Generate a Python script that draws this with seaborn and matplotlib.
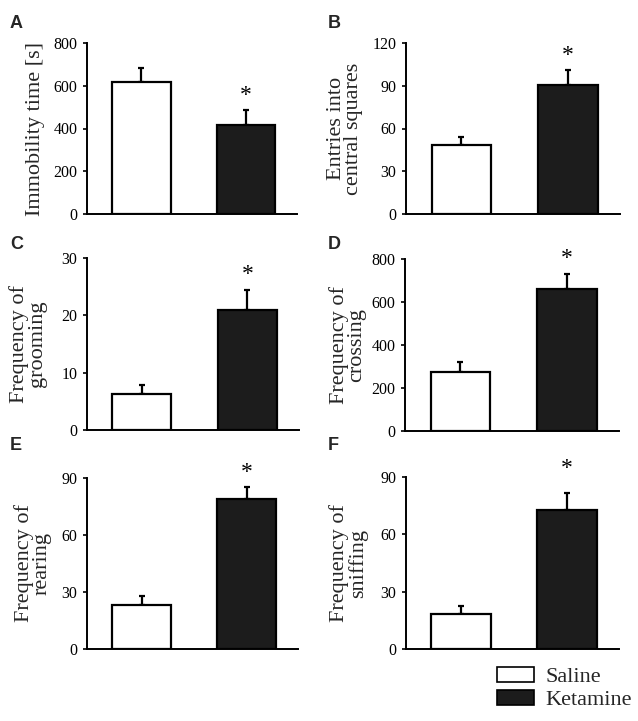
import matplotlib
matplotlib.use("Agg")
import matplotlib.pyplot as plt
from matplotlib.patches import Patch
import seaborn as sns
import pandas as pd

# ---- data ----
groups = ["Saline", "Ketamine"]
panel_letters = ["A", "B", "C", "D", "E", "F"]
ylabels = ["Immobility time [s]", "Entries into\ncentral squares",
           "Frequency of\ngrooming", "Frequency of\ncrossing",
           "Frequency of\nrearing", "Frequency of\nsniffing"]
immobility_mean = [617, 418]
immobility_err = [68, 70]
entries_mean = [48.4, 90.8]
entries_err = [5.9, 10.0]
grooming_mean = [6.2, 20.9]
grooming_err = [1.7, 3.6]
crossing_mean = [275, 662]
crossing_err = [45, 69]
rearing_mean = [23.2, 78.8]
rearing_err = [4.7, 6.7]
sniffing_mean = [18.5, 72.9]
sniffing_err = [4.0, 8.6]
yticks_list = [[0, 200, 400, 600, 800], [0, 30, 60, 90, 120],
               [0, 10, 20, 30], [0, 200, 400, 600, 800],
               [0, 30, 60, 90], [0, 30, 60, 90]]
significant = [True, True, True, True, True, True]

means = [immobility_mean, entries_mean, grooming_mean, crossing_mean, rearing_mean, sniffing_mean]
errs = [immobility_err, entries_err, grooming_err, crossing_err, rearing_err, sniffing_err]

# ---- style ----
sns.set_theme(style="white")
plt.rcParams['font.family'] = ['Liberation Serif', 'DejaVu Serif']
palette = {"Saline": "white", "Ketamine": "#1c1c1c"}

W, H = 638, 721
fig = plt.figure(figsize=(W / 100, H / 100), dpi=100)

# axes boxes in pixels: (left, top, right, bottom)
boxes = [(87, 43, 297, 214), (406, 43, 620, 214),
         (87, 258, 299, 430), (405, 259, 619, 431),
         (87, 478, 298, 649), (406, 477, 619, 649)]
label_x = [-0.2, -0.2, -0.19, -0.18, -0.17, -0.18]
letter_pos = [(10, 28), (328, 28), (10, 249), (328, 249), (10, 450), (328, 450)]
star_offsets = [10, 11, 11, 11, 10, 18]

for i in range(6):
    l, t, r, b = boxes[i]
    ax = fig.add_axes([l / W, 1 - b / H, (r - l) / W, (b - t) / H])
    df = pd.DataFrame({"group": groups, "value": means[i]})
    sns.barplot(data=df, x="group", y="value", hue="group", palette=palette,
                order=groups, hue_order=groups, legend=False, errorbar=None,
                width=0.56, edgecolor="black", linewidth=1.6, ax=ax, zorder=3)
    ax.errorbar([0, 1], means[i], yerr=[[0, 0], errs[i]], fmt="none",
                ecolor="black", elinewidth=1.6, capsize=2.5, capthick=1.6, zorder=2)
    yt = yticks_list[i]
    ax.set_ylim(0, yt[-1])
    ax.set_yticks(yt)
    ax.set_xlim(-0.52, 1.49)
    ax.set_xticks([])
    ax.set_xlabel("")
    ax.set_ylabel(ylabels[i], fontsize=16, linespacing=0.9)
    ax.yaxis.set_label_coords(label_x[i], 0.5)
    ax.tick_params(axis="y", which="major", left=True, length=3, width=1.2,
                   pad=4, labelsize=11.5, colors="black", direction="out")
    for s in ["top", "right"]:
        ax.spines[s].set_visible(False)
    for s in ["left", "bottom"]:
        ax.spines[s].set_color("black")
        ax.spines[s].set_linewidth(1.4)
    ax.set_facecolor("none")
    if significant[i]:
        ax.annotate("*", xy=(1, means[i][1] + errs[i][1]), xytext=(0, star_offsets[i]),
                    textcoords="offset points", ha="center", va="center",
                    fontsize=17, color="black")
    fig.text(letter_pos[i][0] / W, 1 - letter_pos[i][1] / H, panel_letters[i],
             fontsize=13, fontweight="bold", family="Liberation Sans",
             ha="left", va="baseline")

handles = [Patch(facecolor=palette[g], edgecolor="black", linewidth=1.2, label=g) for g in groups]
fig.legend(handles=handles, loc="upper left", bbox_to_anchor=(497 / W, 1 - 667 / H),
           frameon=False, fontsize=16, handlelength=1.67, handleheight=0.68,
           handletextpad=0.5, labelspacing=0.1, borderpad=0, borderaxespad=0)

fig.savefig("out.png", dpi=100)
